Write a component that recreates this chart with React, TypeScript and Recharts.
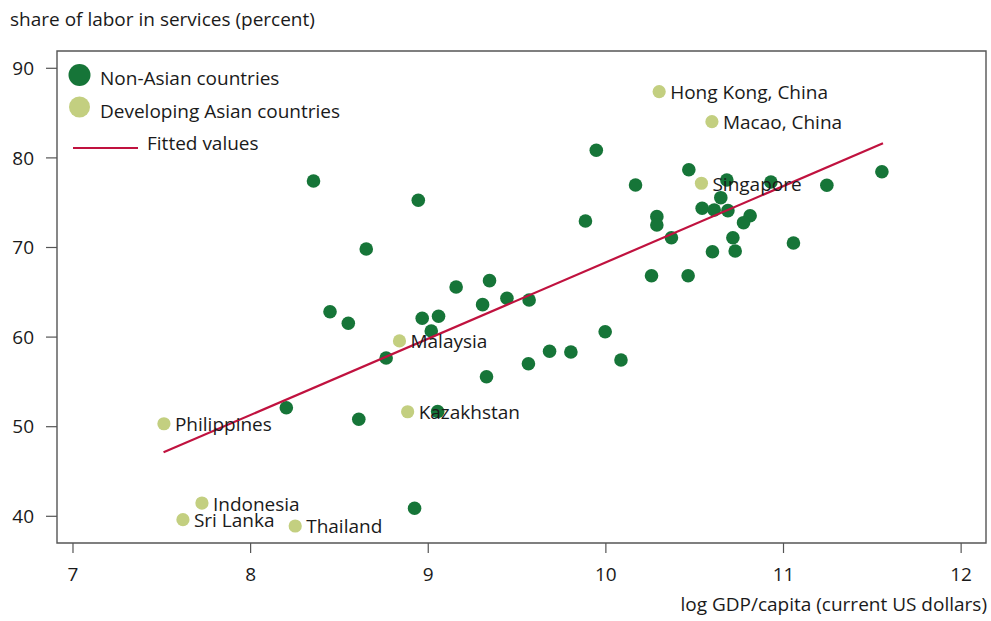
import { ScatterChart, Scatter, XAxis, YAxis, ReferenceArea, Legend, Label } from 'recharts'

const FONT = '"Open Sans", "Noto Sans", sans-serif'
const FS = 19
const DARK = '#167538'
const LIGHT = '#c3cf80'
const RED = '#c0123f'
const AXIS = '#555555'
const INK = '#1a1a1a'

// non-Asian countries: log GDP per capita vs. share of labor in services
const otherGdp = [
  8.354, 8.944, 8.651, 8.447, 8.55, 8.966, 9.058, 9.017, 9.157, 9.345, 9.306, 9.443,
  9.568, 8.763, 8.609, 8.201, 9.053, 8.923, 9.328, 9.564, 9.683, 9.803, 9.996, 10.085,
  9.946, 9.885, 10.167, 10.287, 10.287, 10.369, 10.257, 10.463, 10.467, 10.681, 10.542, 10.61,
  10.687, 10.647, 10.715, 10.728, 10.6, 10.812, 10.775, 10.929, 11.056, 11.244, 11.554,
]
const otherServices = [
  77.42, 75.27, 69.83, 62.83, 61.54, 62.1, 62.32, 60.68, 65.59, 66.3, 63.62, 64.33,
  64.14, 57.67, 50.83, 52.12, 51.7, 40.9, 55.58, 57.03, 58.42, 58.34, 60.6, 57.44,
  80.85, 72.96, 76.98, 73.44, 72.51, 71.09, 66.85, 66.85, 78.68, 77.53, 74.38, 74.19,
  74.11, 75.56, 71.09, 69.61, 69.53, 73.55, 72.77, 77.31, 70.5, 76.94, 78.46,
]

// developing Asian economies, labelled
const asiaNames = [
  'Hong Kong, China', 'Macao, China', 'Singapore', 'Malaysia', 'Kazakhstan',
  'Philippines', 'Indonesia', 'Sri Lanka', 'Thailand',
]
const asiaGdp = [10.3, 10.597, 10.538, 8.838, 8.884, 7.512, 7.726, 7.619, 8.251]
const asiaServices = [87.39, 84.04, 77.17, 59.57, 51.67, 50.33, 41.48, 39.62, 38.92]

// endpoints of the fitted regression line
const fitGdp = [7.51, 11.56]
const fitServices = [47.14, 81.63]

const xTicks = [7, 8, 9, 10, 11, 12]
const yTicks = [40, 50, 60, 70, 80, 90]
const xDomain = [6.91, 12.14]
const yDomain = [37.02, 91.93]

const otherData = otherGdp.map((gdp, i) => ({ gdp, services: otherServices[i] }))
const asiaData = asiaGdp.map((gdp, i) => ({ gdp, services: asiaServices[i], name: asiaNames[i] }))
const fitData = fitGdp.map((gdp, i) => ({ gdp, services: fitServices[i] }))

const DarkDot = (props: any) => <circle cx={props.cx} cy={props.cy} r={6.8} fill={DARK} />

const AsiaDot = (props: any) => (
  <g>
    <circle cx={props.cx} cy={props.cy} r={6.6} fill={LIGHT} />
    <text x={props.cx + 11} y={props.cy + 7.5} fill={INK} fontSize={FS} fontFamily={FONT}>
      {props.payload.name}
    </text>
  </g>
)

const LegendBox = () => (
  <svg width={330} height={100} style={{ fontFamily: FONT, fontSize: FS }}>
    <circle cx={19.5} cy={15} r={11} fill={DARK} />
    <text x={40} y={25} fill={INK}>Non-Asian countries</text>
    <circle cx={19.5} cy={47} r={10.5} fill={LIGHT} />
    <text x={40} y={58} fill={INK}>Developing Asian countries</text>
    <line x1={13} x2={78} y1={88} y2={88} stroke={RED} strokeWidth={2.2} />
    <text x={87} y={90} fill={INK}>Fitted values</text>
  </svg>
)

export default function App() {
  const tick = { fill: INK, fontSize: FS, fontFamily: FONT }
  return (
    <div style={{ position: 'absolute', left: 0, top: 0, background: '#fff' }}>
      <ScatterChart width={991} height={621} margin={{ top: 51, right: 5, bottom: 0, left: 0 }}>
        <XAxis
          dataKey="gdp"
          type="number"
          domain={xDomain}
          ticks={xTicks}
          interval={0}
          allowDataOverflow
          height={78}
          axisLine={false}
          tickSize={10}
          tickMargin={15}
          tickLine={{ stroke: AXIS, strokeWidth: 1.2 }}
          tick={tick}
        >
          <Label
            content={({ viewBox }: any) => (
              <text
                x={viewBox.x + viewBox.width + 1}
                y={viewBox.y + 68}
                textAnchor="end"
                fill={INK}
                fontSize={FS}
                fontFamily={FONT}
              >
                log GDP/capita (current US dollars)
              </text>
            )}
          />
        </XAxis>
        <YAxis
          dataKey="services"
          type="number"
          domain={yDomain}
          ticks={yTicks}
          interval={0}
          allowDataOverflow
          width={57}
          axisLine={false}
          tickSize={11}
          tickMargin={12}
          tickLine={{ stroke: AXIS, strokeWidth: 1.2 }}
          tick={tick}
        >
          <Label
            content={({ viewBox }: any) => (
              <text x={viewBox.x + 10} y={viewBox.y - 25} fill={INK} fontSize={FS} fontFamily={FONT}>
                share of labor in services (percent)
              </text>
            )}
          />
        </YAxis>
        <ReferenceArea
          x1={xDomain[0]}
          x2={xDomain[1]}
          y1={yDomain[0]}
          y2={yDomain[1]}
          fill="none"
          stroke={AXIS}
          strokeWidth={1.4}
          ifOverflow="visible"
        />
        <Legend
          layout="vertical"
          align="center"
          verticalAlign="middle"
          wrapperStyle={{ left: 60, top: 60, width: 330 }}
          content={() => <LegendBox />}
        />
        <Scatter data={otherData} shape={DarkDot} isAnimationActive={false} />
        <Scatter
          data={fitData}
          line={{ stroke: RED, strokeWidth: 2.2 }}
          shape={() => <g />}
          isAnimationActive={false}
        />
        <Scatter data={asiaData} shape={AsiaDot} isAnimationActive={false} />
      </ScatterChart>
    </div>
  )
}
